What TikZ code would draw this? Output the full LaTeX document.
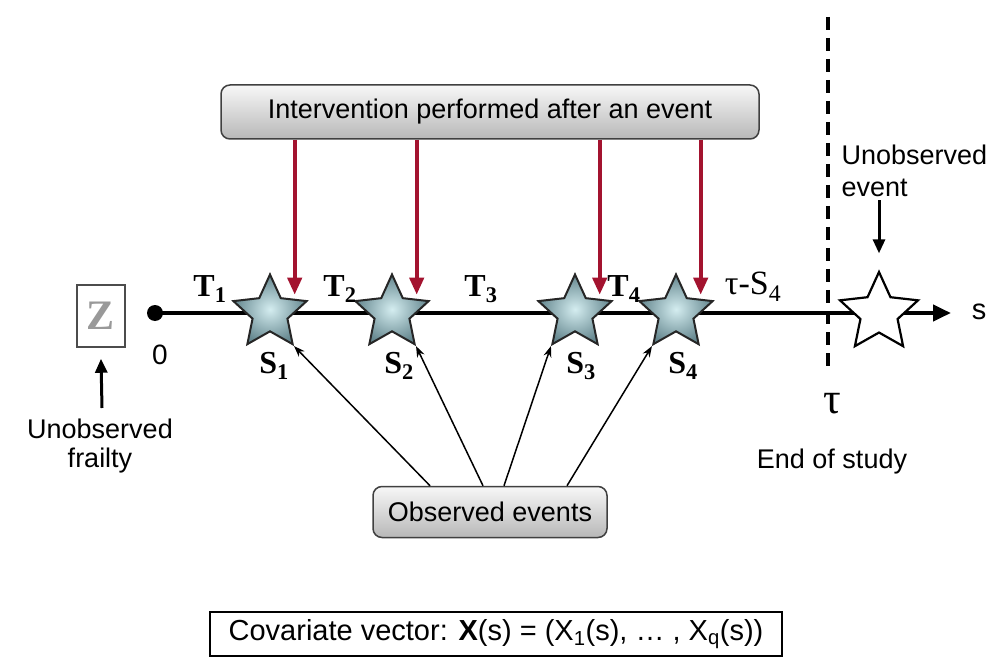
\documentclass[tikz,border=0pt]{standalone}
\usepackage{fontspec}
\setmainfont{Liberation Sans}
\newfontfamily\timesfont{Liberation Serif}
\usetikzlibrary{arrows.meta, shapes.geometric}

\definecolor{starin}{HTML}{D4EDF0}
\definecolor{starout}{HTML}{64868E}
\definecolor{interred}{HTML}{A3132F}

\begin{document}
\begin{tikzpicture}[x=1pt, y=-1pt,
  txt/.style={font=\fontsize{27}{29}\selectfont},
  serifl/.style={font=\timesfont\bfseries\fontsize{32}{34}\selectfont},
  graybox/.style={draw=black!75, line width=1.5pt, rounded corners=9pt,
    top color=black!3, bottom color=black!28, txt},
  event/.style={star, star points=5, star point ratio=2.1, minimum size=77pt,
    inner sep=0pt, line width=2pt, draw=black!85, inner color=starin, outer color=starout},
  noevent/.style={star, star points=5, star point ratio=2.1, minimum size=82pt,
    inner sep=0pt, line width=2.2pt, draw=black, fill=white},
  axisline/.style={line width=4.5pt, -{Triangle[length=18pt, width=16pt]}},
  interarrow/.style={draw=interred, line width=4pt, -{Triangle[length=17pt, width=14pt]}},
  obsarrow/.style={line width=1.5pt, -{Stealth[length=11pt, width=8pt]}},
  pointer/.style={line width=3pt, -{Triangle[length=14pt, width=12pt]}},
  studyend/.style={line width=4pt, dash pattern=on 13pt off 8pt}]
\useasboundingbox (0,0) rectangle (991,663);

% end of study
\draw[studyend] (828,17) -- (828,367);
\node[font=\timesfont\fontsize{44}{46}\selectfont] (tau) at (832,404) {τ};
\node[txt] (endst) at (832,462) {End of study};

% time axis
\node[circle, fill, inner sep=0pt, minimum size=16pt] (orig) at (155,313) {};
\coordinate (send) at (951,313);
\draw[axisline] (orig.center) -- (send);
\node[font=\fontsize{28}{30}\selectfont] (zero) at (160,355) {0};
\node[font=\fontsize{29}{31}\selectfont] (slab) at (979,312) {s};

% frailty
\node[draw=black!70, line width=1.5pt, minimum width=48pt, minimum height=62pt, inner sep=0pt,
  font=\timesfont\bfseries\fontsize{42}{44}\selectfont, text=black!40] (zbox) at (101,316) {Z};
\node[txt, align=center, font=\fontsize{27}{29}\selectfont] (frail) at (100,446) {Unobserved\\frailty};
\coordinate (zfoot) at (102,408);
\draw[pointer] (zfoot) -- ([yshift=-11pt]zbox.south);

% events
\node[event] (s1) at (270,313) {};
\node[event] (s2) at (392,313) {};
\node[event] (s3) at (575,313) {};
\node[event] (s4) at (676,313) {};
\node[noevent] (s5) at (879,313) {};

\node[serifl] at (274,366) {S\textsubscript{1}};
\node[serifl] at (399,366) {S\textsubscript{2}};
\node[serifl] at (581,366) {S\textsubscript{3}};
\node[serifl] at (683,366) {S\textsubscript{4}};

\node[serifl] at (210,289) {T\textsubscript{1}};
\node[serifl] at (340,289) {T\textsubscript{2}};
\node[serifl] at (481,289) {T\textsubscript{3}};
\node[serifl] at (624,289) {T\textsubscript{4}};
\node[font=\timesfont\fontsize{34}{36}\selectfont] at (753,287) {τ-S\textsubscript{4}};

% unobserved event
\node[txt, align=left, anchor=west, font=\fontsize{27}{32}\selectfont] (unev) at (838,171) {Unobserved\\event};
\draw[pointer] (unev.south -| s5.north) -- ([yshift=16pt]s5.north);

% interventions
\node[graybox, minimum width=538pt, minimum height=54pt] (interv) at (490,112) {Intervention performed after an event};
\foreach \s in {s1,s2,s3,s4}
  \draw[interarrow] (interv.south -| \s.30) -- ([yshift=4pt]\s.30);

% observed events
\node[graybox, minimum width=234pt, minimum height=51pt] (obs) at (490,512) {Observed events};
\draw[obsarrow] ([xshift=-60pt]obs.north) -- (s1.-54);
\draw[obsarrow] ([xshift=-7pt]obs.north) -- (s2.-54);
\draw[obsarrow] ([xshift=14pt]obs.north) -- (s3.-126);
\draw[obsarrow] ([xshift=77pt]obs.north) -- (s4.-126);

% covariates
\node[draw, line width=1.3pt, minimum width=572pt, minimum height=44pt,
  font=\fontsize{29}{31}\selectfont] (covar) at (496,634)
  {Covariate vector: \textbf{X}(s) = (X\textsubscript{1}(s), … , X\textsubscript{q}(s))};
\end{tikzpicture}
\end{document}
